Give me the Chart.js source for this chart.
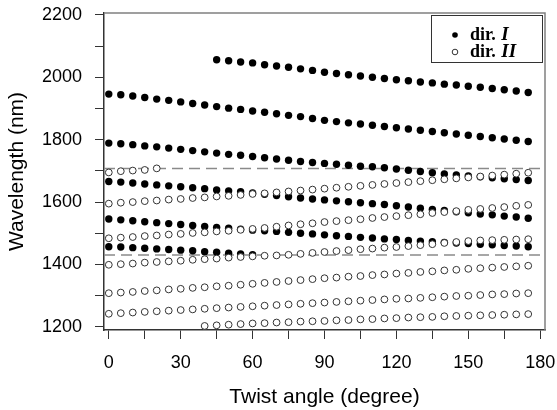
<!DOCTYPE html>
<html>
<head>
<meta charset="utf-8">
<script src="https://cdn.jsdelivr.net/npm/chart.js@4.4.1/dist/chart.umd.min.js"></script>
<style>
  body { margin: 0; background: #fff; }
</style>
</head>
<body>
<canvas id="chart" width="557" height="410"></canvas>
<script>
// twist angle samples (degree)
const angles = [0,5,10,15,20,25,30,35,40,45,50,55,60,65,70,75,80,85,90,95,100,105,110,115,120,125,130,135,140,145,150,155,160,165,170,175];

// dir. I  (filled dots), wavelength in nm, null = no point
const dirI_1 = [null,null,null,null,null,null,null,null,null,
  2056,2053,2049,2046,2040,2036,2032,2027,2022,2016,2012,2008,2004,2000,1996,1992,1989,1985,1982,1978,1975,1971,1968,1964,1960,1956,1951];
const dirI_2 = [1946,1944,1940,1935,1930,1926,1921,1916,1911,1906,1901,1897,1892,1888,1883,1878,1874,1868,1862,
  1858,1854,1850,1846,1842,1838,1834,1830,1826,1822,1818,1814,1810,1806,1802,1798,1794];
const dirI_3 = [1789,1787,1784,1780,1777,1773,1769,1765,1761,1757,1753,1750,1746,1742,1738,1734,1730,1727,1724,
  1721,1718,1715,1713,1710,1706,1702,1698,1694,1690,1687,1684,1681,1678,1675,1672,1669];
const dirI_4 = [1666,1664,1661,1658,1655,1652,1649,1646,1643,1639,1636,1633,1629,1625,1621,1617,1613,1610,1607,
  1604,1601,1598,1595,1592,1588,1584,1580,1576,1573,1569,1566,1562,1559,1555,1552,1548];
const dirI_5 = [1546,1543,1540,1537,1534,1531,1528,1525,1522,1519,1516,1513,1510,1508,1506,1503,1500,1498,1495,
  1492,1490,1487,1485,1482,1480,1477,1475,1473,1471,1469,1467,1465,1463,1461,1459,1457];
const dirI_6 = [1457,1456,1454,1452,1450,1448,1446,1444,1441,1439,1436,1434,1431];

// dir. II (open circles)
const dirII_1 = [1695,1699,1701,1703,1708];
const dirII_2 = [1595,1598,1600,1603,1605,1608,1610,1613,1615,1618,1620,1623,1626,1628,1631,1634,1637,1640,1643,
  1646,1649,1652,1655,1658,1661,1664,1667,1670,1673,1676,1679,1682,1685,1688,1691,1694];
const dirII_3 = [1484,1486,1488,1491,1493,1496,1498,1501,1503,1506,1508,1511,1514,1517,1521,1525,1529,1532,1536,
  1539,1542,1545,1549,1552,1555,1558,1561,1565,1568,1571,1575,1578,1581,1584,1588,1591];
const dirII_4 = [1399,1401,1403,1406,1408,1410,1412,1415,1417,1419,1422,1424,1426,1428,1429,1431,1434,1437,1440,
  1443,1446,1449,1451,1454,1456,1459,1462,1465,1469,1472,1475,1477,1478,1479,1480,1481];
const dirII_5 = [1308,1310,1312,1315,1317,1320,1322,1325,1327,1330,1332,1335,1338,1341,1344,1347,1350,1353,1356,
  1358,1361,1363,1366,1368,1371,1373,1376,1378,1381,1383,1386,1388,1390,1392,1394,1396];
const dirII_6 = [1242,1244,1246,1248,1250,1252,1254,1256,1258,1260,1262,1264,1266,1268,1270,1272,1274,1276,1278,
  1280,1282,1284,1286,1288,1290,1291,1293,1295,1297,1299,1300,1302,1304,1305,1307,1308];
const dirII_7 = [null,null,null,null,null,null,null,null,
  1203,1205,1207,1209,1211,1212,1214,1215,1217,1218,1219,1221,1222,1224,1225,1227,1228,1230,1231,1232,1234,1235,1236,1237,1238,1239,1240,1241];

// dashed reference levels (nm)
const cutoffLevels = [1708, 1430];

const xMin = -2, xMax = 182;
const yMin = 1190, yMax = 2206;

const legendItems = [
  { text: 'dir. ', roman: 'I', filled: true },
  { text: 'dir. ', roman: 'II', filled: false }
];

const FONT = "'Liberation Sans', Arial, sans-serif";
const SERIF = "'Liberation Serif', 'Times New Roman', serif";

function toPoints(values) {
  const pts = [];
  values.forEach((v, i) => {
    if (v !== null && v !== undefined) pts.push({ x: angles[i], y: v });
  });
  return pts;
}

function filledSet(values) {
  return {
    type: 'scatter', data: toPoints(values), order: 2,
    pointRadius: 3.7, pointHoverRadius: 3.7,
    pointBackgroundColor: '#000', pointBorderColor: '#000', pointBorderWidth: 0
  };
}

function openSet(values) {
  return {
    type: 'scatter', data: toPoints(values), order: 1,
    pointRadius: 3.4, pointHoverRadius: 3.4,
    pointBackgroundColor: '#fff', pointBorderColor: '#333', pointBorderWidth: 1
  };
}

const datasets = [];
[dirII_1, dirII_2, dirII_3, dirII_4, dirII_5, dirII_6, dirII_7].forEach(s => datasets.push(openSet(s)));
[dirI_1, dirI_2, dirI_3, dirI_4, dirI_5, dirI_6].forEach(s => datasets.push(filledSet(s)));
cutoffLevels.forEach(level => {
  datasets.push({
    type: 'line', order: 3,
    data: [{ x: xMin, y: level }, { x: xMax, y: level }],
    borderColor: '#8a8a8a', borderWidth: 1.5, borderDash: [11, 6],
    pointRadius: 0, fill: false
  });
});

// box frame + legend drawn by hand (mixed bold / italic text)
const framePlugin = {
  id: 'frameAndLegend',
  afterDraw(chart) {
    const { ctx, chartArea } = chart;
    ctx.save();
    ctx.strokeStyle = '#808080';
    ctx.lineWidth = 1.5;
    ctx.beginPath();
    ctx.moveTo(chartArea.left, chartArea.top);
    ctx.lineTo(chartArea.right, chartArea.top);
    ctx.lineTo(chartArea.right, chartArea.bottom);
    ctx.stroke();

    const w = 111, h = 47;
    const lx = chartArea.right - 3 - w, ly = chartArea.top + 2;
    ctx.fillStyle = '#fff';
    ctx.fillRect(lx, ly, w, h);
    ctx.strokeStyle = '#333';
    ctx.lineWidth = 1;
    ctx.strokeRect(lx + 0.5, ly + 0.5, w, h);

    legendItems.forEach((item, i) => {
      const cy = ly + 20 + i * 17;
      ctx.beginPath();
      ctx.arc(lx + 24, cy, 2.8, 0, Math.PI * 2);
      if (item.filled) {
        ctx.fillStyle = '#000';
        ctx.fill();
      } else {
        ctx.fillStyle = '#fff';
        ctx.fill();
        ctx.strokeStyle = '#333';
        ctx.lineWidth = 1;
        ctx.stroke();
      }
      ctx.fillStyle = '#000';
      ctx.textBaseline = 'middle';
      ctx.textAlign = 'left';
      ctx.font = 'bold 18px ' + SERIF;
      ctx.fillText(item.text, lx + 39, cy);
      const tw = ctx.measureText(item.text).width;
      ctx.font = 'bold italic 19px ' + SERIF;
      ctx.fillText(item.roman, lx + 39 + tw + 1, cy);
    });
    ctx.restore();
  }
};

new Chart(document.getElementById('chart'), {
  type: 'scatter',
  data: { datasets: datasets },
  plugins: [framePlugin],
  options: {
    responsive: false,
    animation: false,
    layout: { padding: { top: 13, right: 12, left: 0, bottom: 0 } },
    plugins: { legend: { display: false }, tooltip: { enabled: false } },
    scales: {
      x: {
        type: 'linear', min: xMin, max: xMax,
        afterFit: s => { s.height = 80; s.paddingLeft = 0; s.paddingRight = 0; },
        border: { color: '#333', width: 1.5 },
        grid: { drawOnChartArea: false, drawTicks: true, tickLength: 9, color: '#333' },
        ticks: {
          stepSize: 15, includeBounds: false, autoSkip: false, maxRotation: 0,
          color: '#000', font: { family: FONT, size: 18 }, padding: 13,
          callback: v => (v % 30 === 0 ? String(v) : '')
        },
        title: {
          display: true, text: 'Twist angle (degree)', color: '#000',
          font: { family: FONT, size: 21, lineHeight: 1.1 }, padding: { top: 0, bottom: 1 }
        }
      },
      y: {
        type: 'linear', min: yMin, max: yMax,
        afterFit: s => { s.width = 104; s.paddingTop = 0; s.paddingBottom = 0; },
        border: { color: '#333', width: 1.5 },
        grid: { drawOnChartArea: false, drawTicks: true, tickLength: 9, color: '#333' },
        ticks: {
          stepSize: 100, includeBounds: false, autoSkip: false,
          color: '#000', font: { family: FONT, size: 18 }, padding: 13,
          callback: v => (v % 200 === 0 ? String(v) : '')
        },
        title: {
          display: true, text: 'Wavelength (nm)', color: '#000',
          font: { family: FONT, size: 21 }, padding: { top: 5, bottom: 0 }
        }
      }
    }
  }
});
</script>
</body>
</html>
